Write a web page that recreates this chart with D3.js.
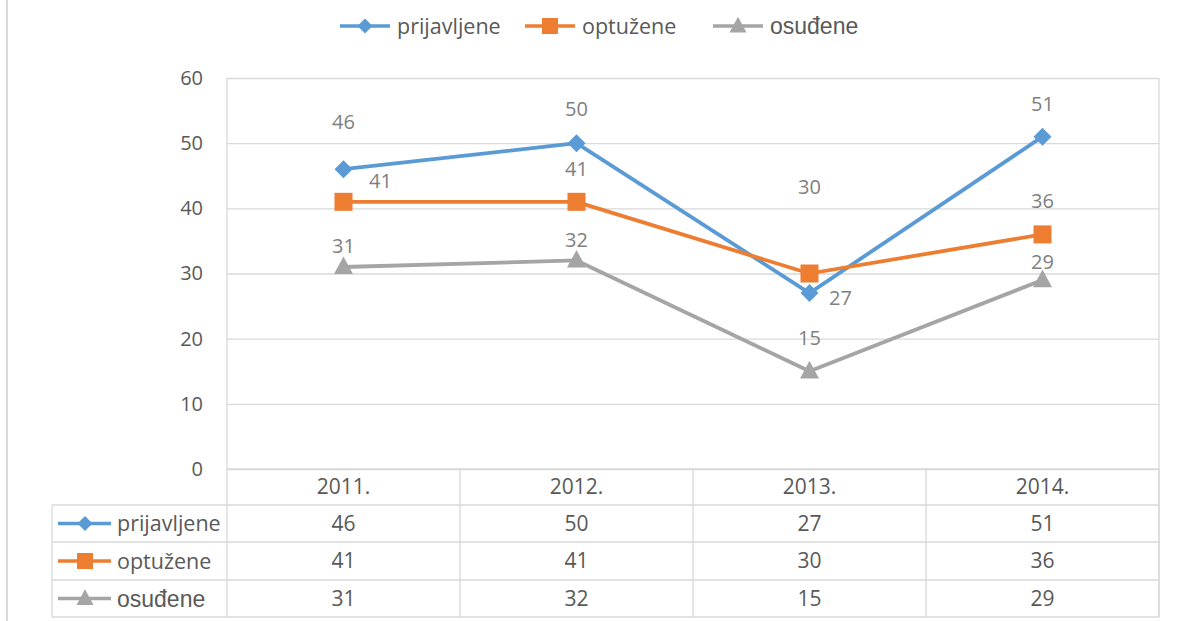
<!DOCTYPE html>
<html><head><meta charset="utf-8">
<script src="https://cdn.jsdelivr.net/npm/d3@7"></script>
<style>body{margin:0;background:#fff}svg{display:block}</style>
</head><body>
<svg id="c" width="1182" height="621"></svg>
<script>
const categories = ["2011.", "2012.", "2013.", "2014."];
const seriesNames = ["prijavljene", "optužene", "osuđene"];
const prijavljene = [46, 50, 27, 51];
const optuzene = [41, 41, 30, 36];
const osudene = [31, 32, 15, 29];
const yTicks = [0, 10, 20, 30, 40, 50, 60];
// label offsets (px) relative to each point, mimicking the source placement
const labelOffsets = [
  [[0,-47],[0,-34],[31,5],[0,-33]],
  [[37,-21],[0,-33],[0,-87],[0,-33]],
  [[0,-21],[0,-20],[0,-33],[0,-18]]
];
const colors = ["#5b9bd5", "#ed7d31", "#a5a5a5"];
const markers = ["diamond", "square", "triangle"];
const values = [prijavljene, optuzene, osudene];

const svg = d3.select("#c");
const L = 227, R = 1159, T = 78, B = 469;
const x = d3.scaleBand().domain(categories).range([L, R]);
const y = d3.scaleLinear().domain([0, 60]).range([B, T]);
const grid = "#d9d9d9";
const font = "'Open Sans', Lato, sans-serif";
const fs = 20, fsTable = 21, fsName = 21.5, fsAlt = 23;
const altFont = "'Liberation Sans', Arial, sans-serif";

// left page border
svg.append("line").attr("x1",7).attr("x2",7).attr("y1",0).attr("y2",621).attr("stroke",grid).attr("stroke-width",2);

// gridlines via axis
const yAxis = d3.axisLeft(y).tickValues(yTicks).tickSize(-(R-L)).tickFormat(d3.format("d"));
const ga = svg.append("g").attr("transform",`translate(${L},0)`).call(yAxis);
ga.select(".domain").remove();
ga.selectAll(".tick line").attr("stroke",grid).attr("stroke-width",1.3);
ga.selectAll(".tick text").attr("x",-24).attr("fill","#595959").attr("font-size",fs).attr("font-family",font);
// plot left/right borders
svg.append("line").attr("x1",L).attr("x2",L).attr("y1",T).attr("y2",617).attr("stroke",grid).attr("stroke-width",1.3);
svg.append("line").attr("x1",R).attr("x2",R).attr("y1",T).attr("y2",617).attr("stroke",grid).attr("stroke-width",1.3);

// table
const rowY = [469, 505, 542, 580, 617];
const tg = svg.append("g");
rowY.forEach((ry,i)=>{
  tg.append("line").attr("x1", i===0?L:52).attr("x2",R).attr("y1",ry).attr("y2",ry).attr("stroke",grid).attr("stroke-width",1.3);
});
tg.append("line").attr("x1",52).attr("x2",52).attr("y1",505).attr("y2",617).attr("stroke",grid).attr("stroke-width",1.3);
categories.forEach((c,i)=>{
  const xr = x(c)+x.bandwidth();
  tg.append("line").attr("x1",xr).attr("x2",xr).attr("y1",469).attr("y2",617).attr("stroke",grid).attr("stroke-width",1.3);
  tg.append("text").attr("x",x(c)+x.bandwidth()/2).attr("y",(rowY[0]+rowY[1])/2).attr("dy","0.35em")
    .attr("text-anchor","middle").attr("fill","#595959").attr("font-size",fsTable).attr("font-family",font).text(c);
});

function marker(g, type, cx, cy, color, s){
  if(type==="diamond"){
    g.append("path").attr("d",`M${cx},${cy-s}L${cx+s},${cy}L${cx},${cy+s}L${cx-s},${cy}Z`).attr("fill",color);
  } else if(type==="square"){
    g.append("rect").attr("x",cx-s).attr("y",cy-s).attr("width",2*s).attr("height",2*s).attr("fill",color);
  } else {
    g.append("path").attr("d",`M${cx},${cy-s*1.1}L${cx+s},${cy+s*0.75}L${cx-s},${cy+s*0.75}Z`).attr("fill",color);
  }
}
const msize = [9, 9, 9.5];
const lsize = [7.5, 8, 8.5];

// table rows
values.forEach((vals,si)=>{
  const cy = (rowY[si+1]+rowY[si+2])/2;
  const g = tg.append("g");
  g.append("line").attr("x1",58).attr("x2",111).attr("y1",cy).attr("y2",cy).attr("stroke",colors[si]).attr("stroke-width",3.5);
  marker(g, markers[si], 85, cy, colors[si], lsize[si]);
  g.append("text").attr("x",117).attr("y",cy).attr("dy","0.35em").attr("fill","#595959")
    .attr("font-size", si===2?fsAlt:fsName).attr("font-family", si===2?altFont:font).text(seriesNames[si]);
  vals.forEach((v,i)=>{
    g.append("text").attr("x",x(categories[i])+x.bandwidth()/2).attr("y",cy).attr("dy","0.35em")
      .attr("text-anchor","middle").attr("fill","#595959").attr("font-size",fsTable).attr("font-family",font).text(v);
  });
});

// series lines
const line = d3.line().x((d,i)=>x(categories[i])+x.bandwidth()/2).y(d=>y(d));
values.forEach((vals,si)=>{
  const g = svg.append("g");
  g.append("path").datum(vals).attr("d",line).attr("fill","none").attr("stroke",colors[si]).attr("stroke-width",3.8).attr("stroke-linejoin","round");
  vals.forEach((v,i)=>{
    marker(g, markers[si], x(categories[i])+x.bandwidth()/2, y(v), colors[si], msize[si]);
  });
});
// labels
values.forEach((vals,si)=>{
  vals.forEach((v,i)=>{
    const o = labelOffsets[si][i];
    svg.append("text").attr("x",x(categories[i])+x.bandwidth()/2+o[0]).attr("y",y(v)+o[1]).attr("dy","0.35em")
      .attr("text-anchor","middle").attr("fill","#7f7f7f").attr("font-size",fs).attr("font-family",font).text(v);
  });
});

// legend
const legX = [340, 525, 713];
seriesNames.forEach((n,si)=>{
  const g = svg.append("g");
  const lx = legX[si], ly = 26;
  g.append("line").attr("x1",lx).attr("x2",lx+50).attr("y1",ly).attr("y2",ly).attr("stroke",colors[si]).attr("stroke-width",3.5);
  marker(g, markers[si], lx+25, ly, colors[si], lsize[si]);
  g.append("text").attr("x",lx+57).attr("y",ly).attr("dy","0.35em").attr("fill","#595959")
    .attr("font-size", si===2?fsAlt:fsName).attr("font-family", si===2?altFont:font).text(n);
});
</script>
</body></html>
